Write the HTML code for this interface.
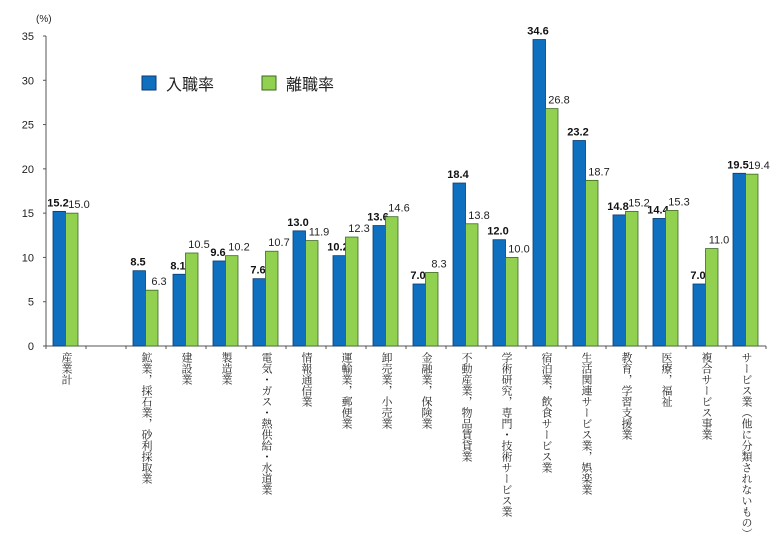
<!DOCTYPE html>
<html><head><meta charset="utf-8"><style>
body{margin:0;background:#fff}
svg text{font-family:"Liberation Sans","Noto Sans CJK JP",sans-serif}
.cat{font-family:"Liberation Serif","Noto Serif CJK SC",serif;font-size:11px;fill:#222;writing-mode:vertical-rl}
</style></head><body>
<svg id="c" width="781" height="537" viewBox="0 0 781 537">
<text x="36" y="22" font-size="10" fill="#222">(%)</text>
<g>
<rect x="142" y="76" width="14" height="14" fill="#1070c0" stroke="#0a3a70"/>
<text x="166" y="90" font-size="16" fill="#222">入職率</text>
<rect x="262" y="76" width="14" height="14" fill="#92d050" stroke="#3a6a20"/>
<text x="286" y="90" font-size="16" fill="#222">離職率</text>
</g>
</svg>
<script>
const categories=["産業計","","鉱業，採石業，砂利採取業","建設業","製造業","電気・ガス・熱供給・水道業","情報通信業","運輸業，郵便業","卸売業，小売業","金融業，保険業","不動産業，物品賃貸業","学術研究，専門・技術サービス業","宿泊業，飲食サービス業","生活関連サービス業，娯楽業","教育，学習支援業","医療，福祉","複合サービス事業","サービス業（他に分類されないもの）"];
const entryRate=[15.2,null,8.5,8.1,9.6,7.6,13.0,10.2,13.6,7.0,18.4,12.0,34.6,23.2,14.8,14.4,7.0,19.5];
const exitRate=[15.0,null,6.3,10.5,10.2,10.7,11.9,12.3,14.6,8.3,13.8,10.0,26.8,18.7,15.2,15.3,11.0,19.4];
const yTicks=[0,5,10,15,20,25,30,35];
const svg=document.getElementById('c');const NS='http://www.w3.org/2000/svg';
const x0=46,slotW=40,yBase=346,yTop=36,yMax=35;
const y=v=>yBase-(v/yMax)*(yBase-yTop);
const xs=i=>x0+slotW*i;
function mk(t,a){const e=document.createElementNS(NS,t);for(const k in a)e.setAttribute(k,a[k]);svg.appendChild(e);return e;}
let e;
e=mk('line',{x1:x0,y1:yTop,x2:x0,y2:yBase,stroke:'#555'});


e=mk('line',{x1:x0,y1:yBase,x2:xs(categories.length),y2:yBase,stroke:'#555'});


yTicks.forEach(t=>{
 e=mk('line',{x1:x0-3,y1:y(t),x2:x0,y2:y(t),stroke:'#555'});
 
 
 e=mk('text',{x:x0-12,y:y(t)+4,'font-size':11,'text-anchor':'end',fill:'#222'});e.textContent=t;
 
 
});
for(let i=0;i<=categories.length;i++){
 e=mk('line',{x1:xs(i),y1:yBase,x2:xs(i),y2:yBase+3,stroke:'#555'});
 
 
}
categories.forEach((c,i)=>{
 const s=xs(i);
 if(entryRate[i]!=null){
  e=mk('rect',{x:s+7,y:y(entryRate[i]),width:12.5,height:yBase-y(entryRate[i]),fill:'#1070c0',stroke:'#0a3a70','stroke-width':0.8});
  
  
  e=mk('text',{x:s+12,y:y(entryRate[i])-5,'font-size':11,'font-weight':'bold','text-anchor':'middle',fill:'#111'});e.textContent=entryRate[i].toFixed(1);
  
  
 }
 if(exitRate[i]!=null){
  e=mk('rect',{x:s+19.5,y:y(exitRate[i]),width:12.5,height:yBase-y(exitRate[i]),fill:'#92d050',stroke:'#3a6a20','stroke-width':0.8});
  
  
  e=mk('text',{x:s+33,y:y(exitRate[i])-5,'font-size':11,'text-anchor':'middle',fill:'#222'});e.textContent=exitRate[i].toFixed(1);
  
  
 }
 if(c){
  e=mk('text',{x:s+20,y:352,class:'cat'});e.textContent=c;
  
  
 }
});
</script>
</body></html>
